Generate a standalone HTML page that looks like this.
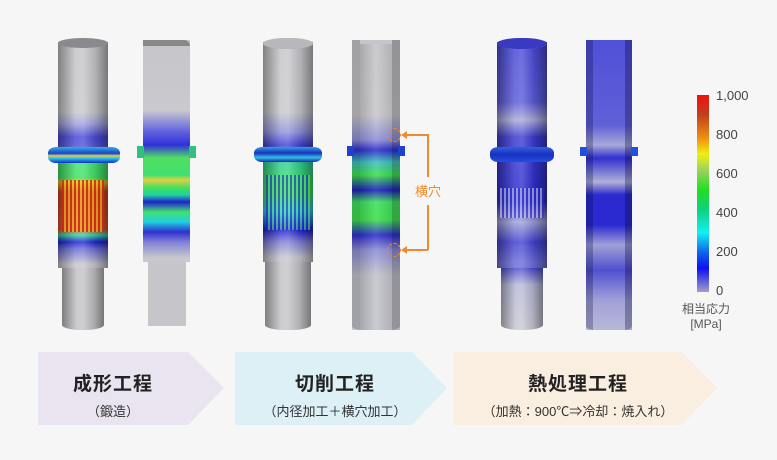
<!DOCTYPE html>
<html><head><meta charset="utf-8"><style>
body{margin:0;width:777px;height:460px;background:#f6f6f6;position:relative;overflow:hidden;font-family:"Liberation Sans","Noto Sans CJK JP",sans-serif}
.a{position:absolute}
.sh::after{content:"";position:absolute;inset:0;background:linear-gradient(90deg,rgba(0,0,0,.35),rgba(255,255,255,.15) 35%,rgba(255,255,255,.2) 50%,rgba(0,0,0,.1) 75%,rgba(0,0,0,.4));border-radius:inherit}
.arrow{position:absolute;top:352px;height:73px;text-align:center}
.t1{font-size:19px;font-weight:bold;color:#222;margin-top:17px;letter-spacing:1px}
.t2{font-size:13px;color:#333;margin-top:5px}
.lg{position:absolute;left:716px;font-size:13px;color:#444}
</style></head><body>
<!-- shaft 1 -->
<div class="a sh" style="left:62px;top:260px;width:42px;height:70px;background:#c2c2c6;border-radius:0 0 20px 20px/0 0 5px 5px"></div>
<div class="a sh" style="left:58px;top:42px;width:50px;height:226px;background:linear-gradient(#c4c4c8 0,#c8c8cc 70px,#a0a0dc 82px,#4848d8 95px,#5050d8 103px,#40e070 121px,#40e060 136px,#e8c020 140px,#d04020 150px,#e05030 188px,#30d8a0 193px,#2020d0 200px,#6a6ad8 207px,#c4c4cc 222px)"></div>
<div class="a" style="left:58px;top:38px;width:50px;height:10px;border-radius:50%;background:#8a8a8e"></div>
<div class="a" style="left:48px;top:147px;width:72px;height:16px;border-radius:8px/6px;background:linear-gradient(#30b0e0,#1a40d0 40%,#e0d040 55%,#30c0f0 70%,#1030c0)"></div>
<div class="a" style="left:62px;top:180px;width:42px;height:52px;background:repeating-linear-gradient(90deg,rgba(200,40,20,.8) 0 2px,rgba(240,200,30,.6) 2px 4px)"></div>
<!-- shaft 2 -->
<div class="a" style="left:148px;top:258px;width:38px;height:68px;background:#c6c6ca"></div>
<div class="a" style="left:143px;top:40px;width:47px;height:222px;background:linear-gradient(#c6c6ca 0,#cacace 70px,#6060e0 92px,#3030d8 105px,#50e060 118px,#40e070 135px,#e0d040 140px,#40e060 148px,#20d0a0 155px,#2020d0 162px,#40e070 172px,#20d0e0 182px,#3030d0 192px,#8080d8 202px,#c8c8cc 218px)"></div>
<div class="a" style="left:143px;top:40px;width:47px;height:6px;background:#888;border-radius:0 20px 0 0"></div>
<div class="a" style="left:137px;top:146px;width:59px;height:12px;background:linear-gradient(90deg,#30c080 0 7px,transparent 7px 52px,#30c080 52px)"></div>
<!-- shaft 3 -->
<div class="a sh" style="left:265px;top:255px;width:46px;height:75px;background:#c4c4c8;border-radius:0 0 20px 20px/0 0 5px 5px"></div>
<div class="a sh" style="left:263px;top:42px;width:50px;height:220px;background:linear-gradient(#c6c6ca 0,#c8c8cc 70px,#9090dc 90px,#4040d8 103px,#30d090 122px,#40e050 150px,#30c0f0 170px,#2020d0 188px,#8080d8 200px,#c4c4cc 215px)"></div>
<div class="a" style="left:263px;top:38px;width:50px;height:11px;border-radius:50%;background:#9a9a9e;box-shadow:inset 0 0 0 6px #b8b8bc"></div>
<div class="a" style="left:254px;top:147px;width:68px;height:15px;border-radius:8px/6px;background:linear-gradient(#30a0e0,#1a30c0 40%,#30c0e0 70%,#1030b0)"></div>
<div class="a" style="left:266px;top:175px;width:44px;height:55px;background:repeating-linear-gradient(90deg,rgba(20,40,200,.6) 0 2px,rgba(100,230,120,.5) 2px 4px)"></div>
<!-- shaft 4 -->
<div class="a" style="left:352px;top:40px;width:48px;height:290px;background:linear-gradient(#c6c6ca 0,#c8c8cc 75px,#9090dc 100px,#3030d0 110px,#40c0c0 122px,#40e050 135px,#2020c0 150px,#40e060 162px,#40e050 180px,#3030d0 195px,#9090d8 210px,#c4c4cc 235px);border-radius:0 0 10px 10px/0 0 4px 4px"></div>
<div class="a" style="left:360px;top:44px;width:32px;height:286px;background:linear-gradient(90deg,rgba(0,0,0,.15),rgba(255,255,255,.1),rgba(0,0,0,.1))"></div>
<div class="a" style="left:352px;top:40px;width:8px;height:290px;background:rgba(0,0,0,.18)"></div>
<div class="a" style="left:392px;top:40px;width:8px;height:290px;background:rgba(0,0,0,.25)"></div>
<div class="a" style="left:347px;top:146px;width:58px;height:10px;background:linear-gradient(90deg,#2040d0 0 7px,transparent 7px 51px,#2040d0 51px)"></div>
<!-- annotations -->
<div class="a" style="left:387px;top:128px;width:12px;height:12px;border:1.5px dashed #f08a30;border-radius:50%"></div>
<div class="a" style="left:387px;top:243px;width:12px;height:12px;border:1.5px dashed #f08a30;border-radius:50%"></div>
<div class="a" style="left:405px;top:134px;width:23px;height:1.5px;background:#f08a30"></div>
<div class="a" style="left:405px;top:249px;width:23px;height:1.5px;background:#f08a30"></div>
<div class="a" style="left:427px;top:134px;width:1.5px;height:43px;background:#f08a30"></div>
<div class="a" style="left:427px;top:205px;width:1.5px;height:45px;background:#f08a30"></div>
<div class="a" style="left:401px;top:131px;border:4px solid transparent;border-right:6px solid #f08a30;border-left:0"></div>
<div class="a" style="left:401px;top:246px;border:4px solid transparent;border-right:6px solid #f08a30;border-left:0"></div>
<div class="a" style="left:415px;top:181px;font-size:13px;color:#f08a30">横穴</div>
<!-- shaft 5 -->
<div class="a sh" style="left:501px;top:265px;width:42px;height:65px;background:linear-gradient(#3a3ad0,#b8b8d8 20px,#c8c8d0);border-radius:0 0 20px 20px/0 0 5px 5px"></div>
<div class="a sh" style="left:497px;top:42px;width:50px;height:226px;background:linear-gradient(#4848d8 0,#5a5ad8 60px,#a8a8d8 78px,#3a3ad0 95px,#2a2ad0 160px,#a0a0d8 180px,#4040d0 200px,#6a6ad8 220px)"></div>
<div class="a" style="left:497px;top:38px;width:50px;height:11px;border-radius:50%;background:#6a6ad0;box-shadow:inset 0 0 0 6px #3a3ac0"></div>
<div class="a" style="left:490px;top:147px;width:64px;height:15px;border-radius:8px/6px;background:linear-gradient(#3060e0,#1a30c0 50%,#2050e0)"></div>
<div class="a" style="left:500px;top:188px;width:44px;height:30px;background:repeating-linear-gradient(90deg,rgba(200,200,230,.6) 0 2px,rgba(40,40,200,.5) 2px 4px)"></div>
<!-- shaft 6 -->
<div class="a" style="left:586px;top:40px;width:46px;height:290px;background:linear-gradient(#5050d8 0,#6060d8 85px,#a8a8d8 105px,#3030d0 118px,#b0b0d8 142px,#2a2ad0 155px,#2a2ad0 185px,#a0a0d8 205px,#5050d0 230px,#a0a0d8 260px,#b8b8d8);border-radius:0 0 10px 10px/0 0 4px 4px"></div>
<div class="a" style="left:586px;top:40px;width:7px;height:290px;background:rgba(0,0,40,.25)"></div>
<div class="a" style="left:625px;top:40px;width:7px;height:290px;background:rgba(0,0,40,.3)"></div>
<div class="a" style="left:580px;top:147px;width:58px;height:9px;background:linear-gradient(90deg,#2050e0 0 7px,transparent 7px 51px,#2050e0 51px)"></div>
<!-- legend -->
<div class="a" style="left:697px;top:95px;width:12px;height:197px;background:linear-gradient(#f01010,#c04020 10%,#f09010 22%,#f0f010 30%,#a0d060 38%,#20e020 48%,#10d080 58%,#10f0f0 70%,#1060f0 80%,#1010f0 88%,#a0a0c8)"></div>
<div class="lg" style="top:88px">1,000</div>
<div class="lg" style="top:127px">800</div>
<div class="lg" style="top:166px">600</div>
<div class="lg" style="top:205px">400</div>
<div class="lg" style="top:244px">200</div>
<div class="lg" style="top:283px">0</div>
<div class="a" style="left:676px;top:302px;font-size:12px;color:#555;text-align:center;width:60px;line-height:15px;white-space:nowrap">相当応力<br>[MPa]</div>
<!-- arrows -->
<svg class="a" style="left:0;top:0" width="777" height="460">
<polygon points="38,352 188,352 224,388 188,425 38,425" fill="#e9e4f0"/>
<polygon points="235,352 412,352 447,388 412,425 235,425" fill="#dcf0f6"/>
<polygon points="453,352 682,352 717,388 682,425 453,425" fill="#faeee0"/>
</svg>
<div class="arrow" style="left:38px;width:150px"><div class="t1">成形工程</div><div class="t2">（鍛造）</div></div>
<div class="arrow" style="left:235px;width:200px"><div class="t1">切削工程</div><div class="t2">（内径加工＋横穴加工）</div></div>
<div class="arrow" style="left:453px;width:250px"><div class="t1">熱処理工程</div><div class="t2">（加熱：900℃⇒冷却：焼入れ）</div></div>
</body></html>
